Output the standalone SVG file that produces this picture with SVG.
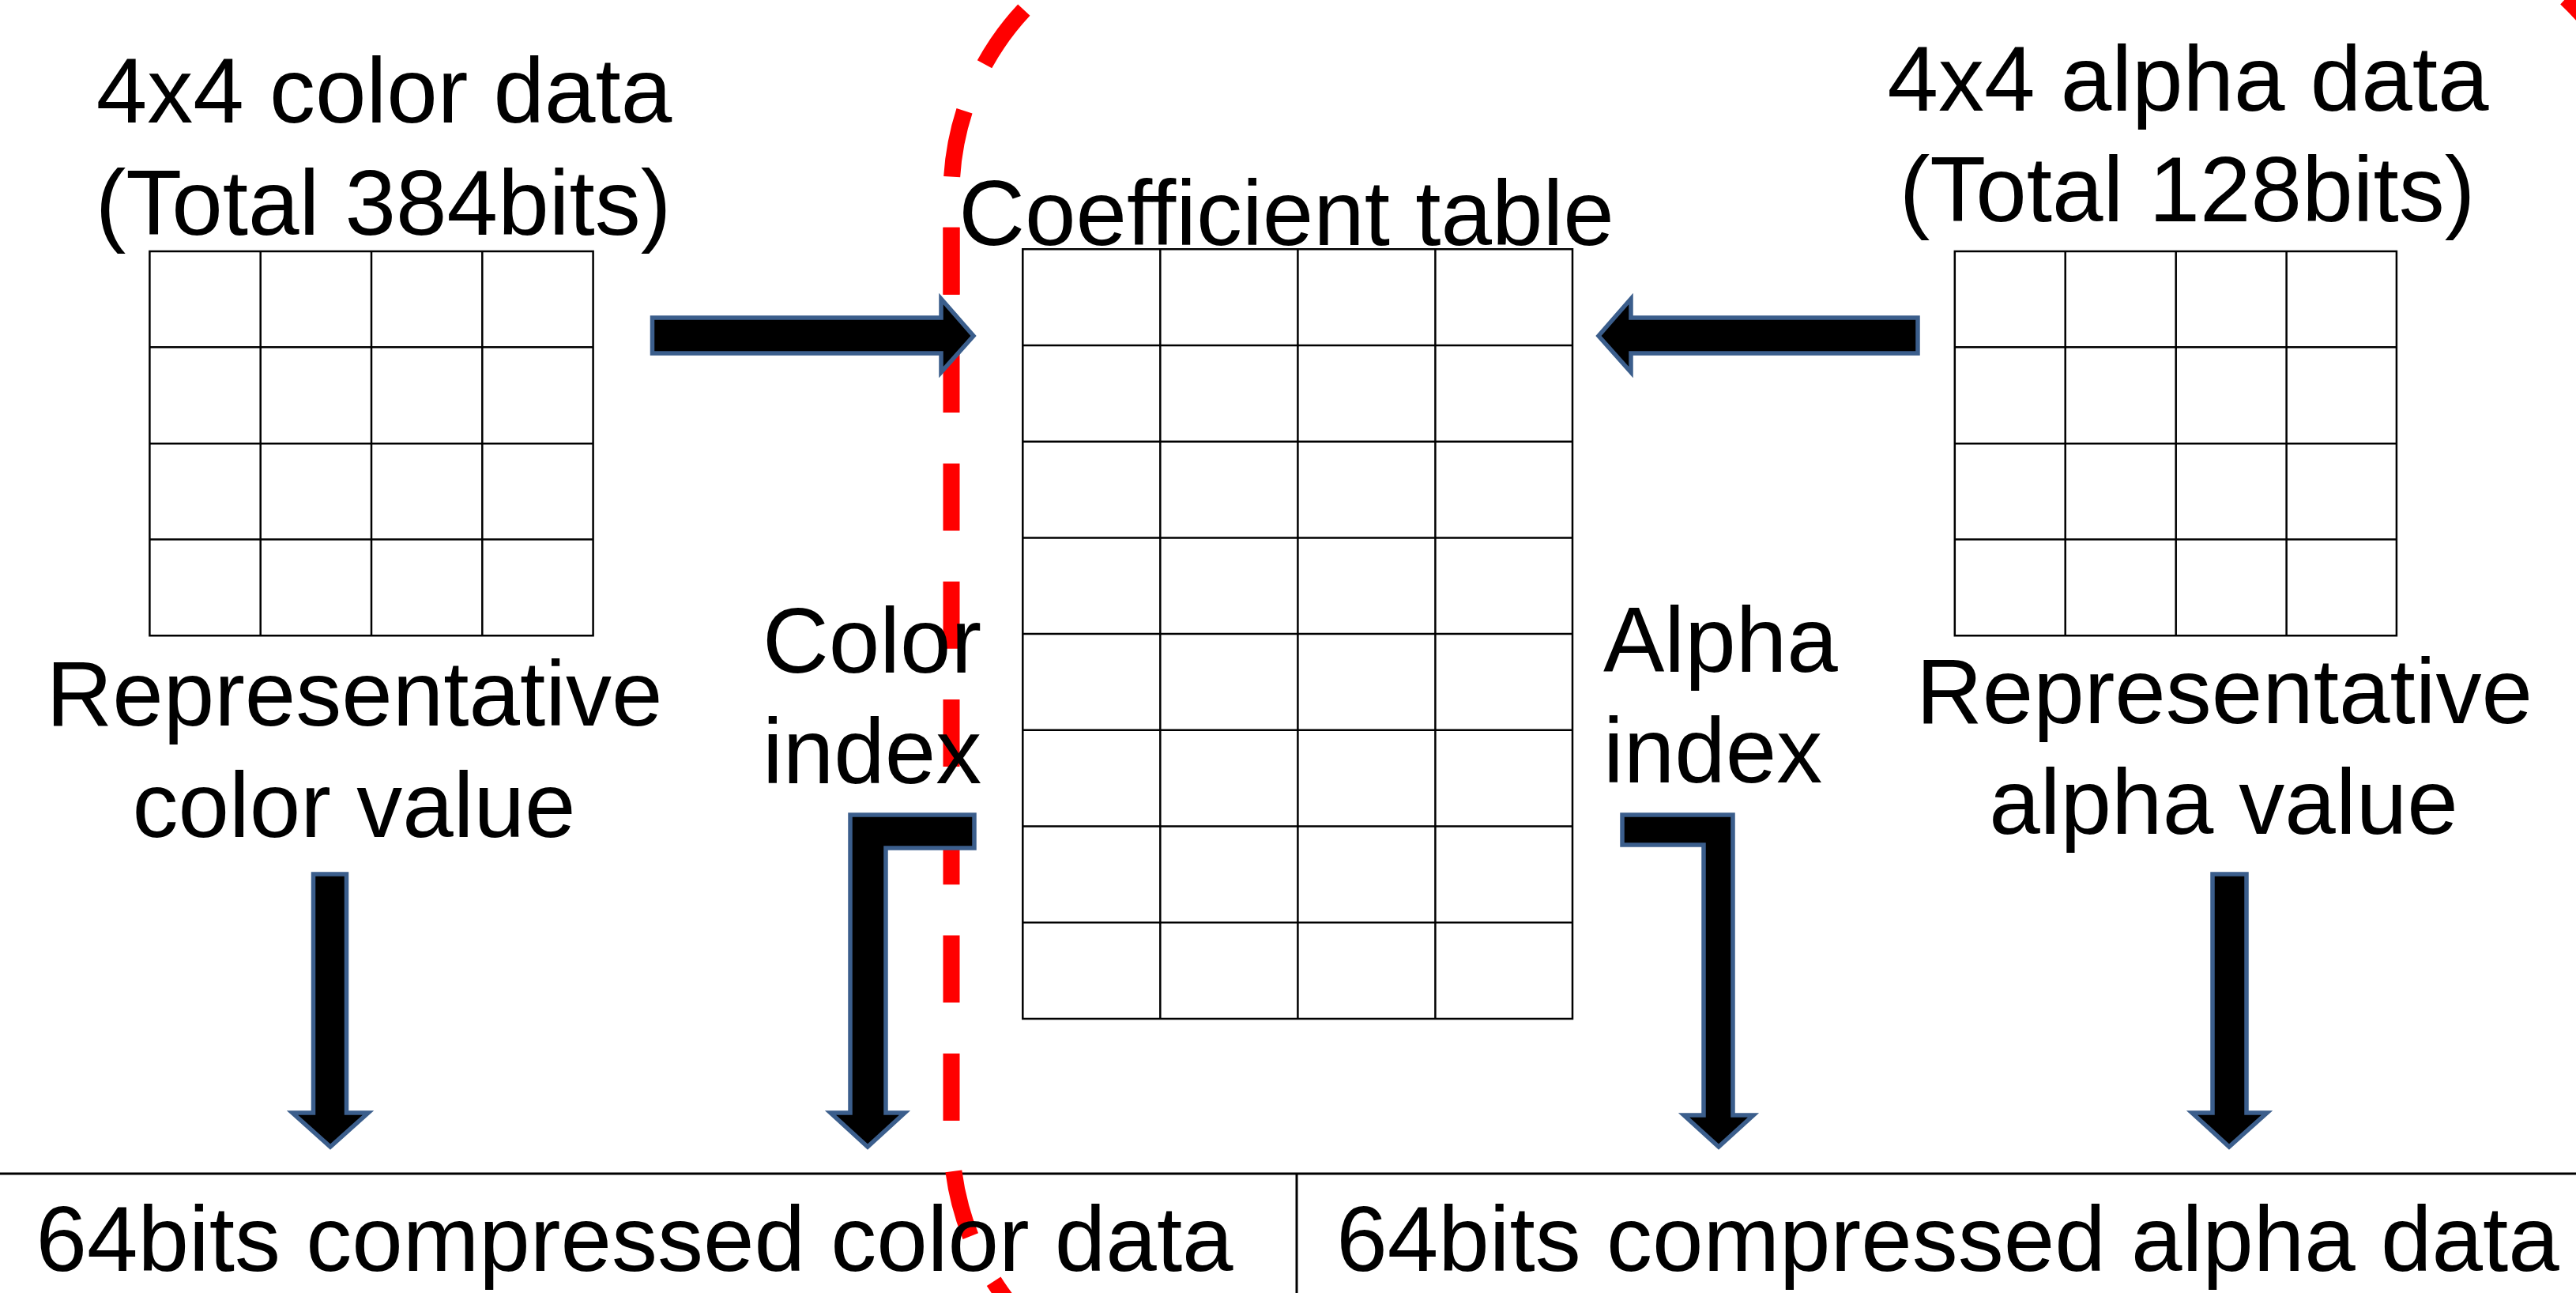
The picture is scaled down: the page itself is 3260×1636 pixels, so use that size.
<svg xmlns="http://www.w3.org/2000/svg" width="3260" height="1636" viewBox="0 0 3260 1636">
<style>
  .t { font-family: "Liberation Sans", Arial, sans-serif; font-size: 116px; fill: #000; }
  .m { text-anchor: middle; }
  .grid { fill: none; stroke: #000; stroke-width: 2.5; }
  .arrow { fill: #000; stroke: #3B5E8C; stroke-width: 5.5; stroke-linejoin: miter; }
  .red { fill: none; stroke: #FF0000; stroke-width: 21; stroke-dasharray: 85 64.3; }
</style>
<rect width="3260" height="1636" fill="#fff"/>

<g id="color-grid">
  <path class="grid" d="M189.4,318 H750.6 V804.3 H189.4 Z M189.4,439.3 H750.6 M189.4,561.2 H750.6 M189.4,682.5 H750.6 M329.7,318 V804.3 M470,318 V804.3 M610.3,318 V804.3"/>
</g>
<g id="alpha-grid">
  <path class="grid" d="M2473.8,318 H3032.9 V804.3 H2473.8 Z M2473.8,439.3 H3032.9 M2473.8,561.2 H3032.9 M2473.8,682.5 H3032.9 M2613.7,318 V804.3 M2753.7,318 V804.3 M2893.6,318 V804.3"/>
</g>
<g id="coefficient-grid">
  <path class="grid" d="M1294.3,315.3 H1990 V1288.9 H1294.3 Z M1294.3,437 H1990 M1294.3,558.7 H1990 M1294.3,680.4 H1990 M1294.3,802.1 H1990 M1294.3,923.8 H1990 M1294.3,1045.5 H1990 M1294.3,1167.2 H1990 M1468.3,315.3 V1288.9 M1642.4,315.3 V1288.9 M1816.4,315.3 V1288.9"/>
</g>
<g id="output-table">
  <line x1="0" y1="1485" x2="3260" y2="1485" stroke="#000" stroke-width="3"/>
  <line x1="1641" y1="1485" x2="1641" y2="1636" stroke="#000" stroke-width="3"/>
</g>

<g id="boundary">
  <path class="red" d="M1204,287.8 V1438 A340,340 0 0 0 1544,1778"/>
  <path class="red" d="M1204,372.8 V245 A340,340 0 0 1 1544,-95 H3014 A340,340 0 0 1 3354,245"/>
</g>

<g id="labels">
  <text class="t m" x="486" y="155">4x4 color data</text>
  <text class="t m" x="485" y="296.5">(Total 384bits)</text>
  <text class="t m" x="1628" y="309.6">Coefficient table</text>
  <text class="t m" x="2769" y="140">4x4 alpha data</text>
  <text class="t m" x="2768" y="280">(Total 128bits)</text>
  <text class="t m" x="448.5" y="918">Representative</text>
  <text class="t m" x="448" y="1059">color value</text>
  <text class="t" x="965" y="851">Color</text>
  <text class="t" x="965" y="991">index</text>
  <text class="t" x="2029" y="850">Alpha</text>
  <text class="t" x="2029" y="990">index</text>
  <text class="t m" x="2815" y="915">Representative</text>
  <text class="t m" x="2814" y="1055">alpha value</text>
  <text class="t m" x="803" y="1608">64bits compressed color data</text>
  <text class="t m" x="2465" y="1608">64bits compressed alpha data</text>
</g>

<g id="connectors">
  <path class="arrow" d="M825.5,402 H1191 V378 L1232,425 L1191,471 V447 H825.5 Z"/>
  <path class="arrow" d="M2427,402 H2064 V378 L2023,425 L2064,471 V447 H2427 Z"/>
  <path class="arrow" d="M396.5,1106 H438.5 V1408 H466 L418,1451 L370,1408 H396.5 Z"/>
  <path class="arrow" d="M1233,1031 H1076 V1408 H1051 L1098,1451 L1145,1408 H1121 V1073 H1233 Z"/>
  <path class="arrow" d="M2053,1031 H2193 V1411 H2219 L2175,1451 L2131,1411 H2156 V1069 H2053 Z"/>
  <path class="arrow" d="M2800,1106 H2843 V1408 H2869 L2821,1451 L2774,1408 H2800 Z"/>
</g>
</svg>
